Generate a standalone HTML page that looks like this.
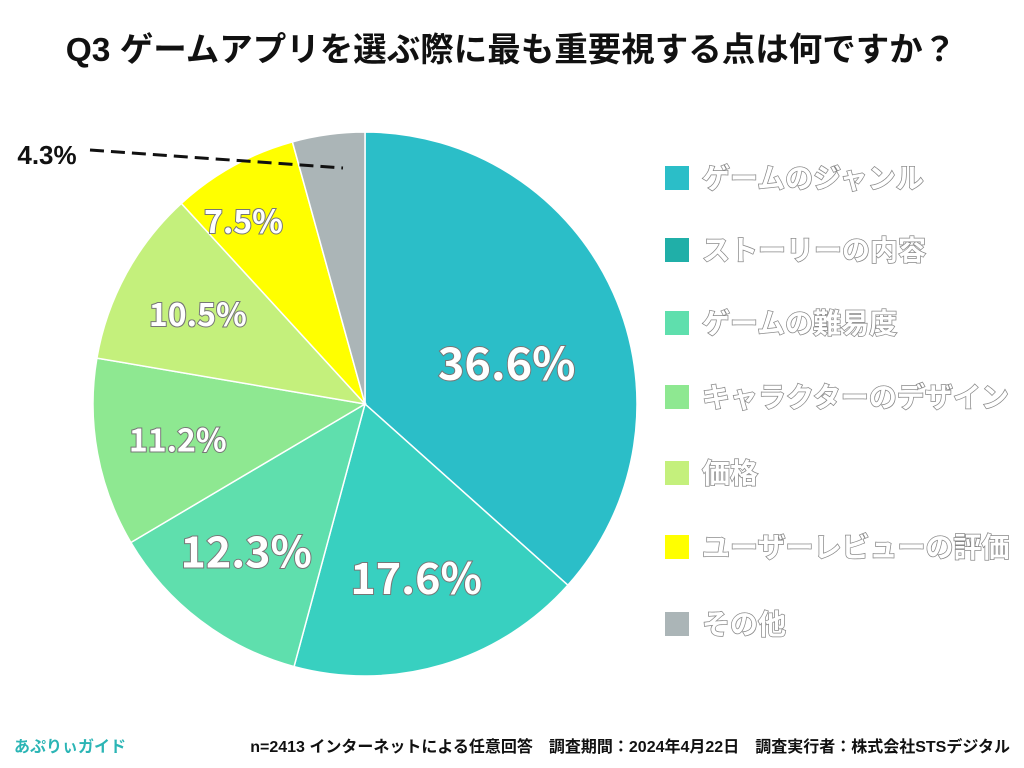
<!DOCTYPE html>
<html><head><meta charset="utf-8"><style>
body{margin:0;background:#fff;}
svg{display:block;font-family:"Liberation Sans","Noto Sans CJK JP",sans-serif;}
.out{fill:#fff;stroke:#888;stroke-width:1.5;paint-order:stroke;font-weight:bold;}
.pl{fill:#fff;stroke:#777;stroke-width:2;paint-order:stroke;font-weight:bold;text-anchor:middle;dominant-baseline:central;font-family:"Noto Sans CJK JP","Liberation Sans",sans-serif;}
</style></head><body>
<svg id="c" width="1024" height="768">
<text x="511" y="61" text-anchor="middle" font-size="33.5" font-weight="bold" fill="#111">Q3 ゲームアプリを選ぶ際に最も重要視する点は何ですか？</text>
<g id="slices"></g><g id="labels"></g><g id="legend"></g>
<text x="47" y="164" text-anchor="middle" font-size="26" font-weight="bold" fill="#111">4.3%</text>
<line x1="90" y1="150" x2="343" y2="168" stroke="#111" stroke-width="3" stroke-dasharray="14,7"/>
<text x="14" y="752" font-size="16" font-weight="bold" fill="#2bb5b5">あぷりぃガイド</text>
<text x="1010" y="752" text-anchor="end" font-size="16" font-weight="bold" fill="#111">n=2413 インターネットによる任意回答　調査期間：2024年4月22日　調査実行者：株式会社STSデジタル</text>
</svg>
<script>
const categories=["ゲームのジャンル","ストーリーの内容","ゲームの難易度","キャラクターのデザイン","価格","ユーザーレビューの評価","その他"];
const values=[36.6,17.6,12.3,11.2,10.5,7.5,4.3];
const colors=["#2bbec8","#38d0c0","#5fdfad","#8ee891","#c4f07c","#ffff00","#abb5b7"];
const legendColors=["#2bbec8","#20afa8","#5fdfad","#8ee891","#c4f07c","#ffff00","#abb5b7"];
const NS="http://www.w3.org/2000/svg";
const cx=365,cy=404,r=272;
const total=values.reduce((a,b)=>a+b,0);
const lr=[0.545,0.66,0.69,0.70,0.70,0.81,0];
const lOff=[7,0,2,0,0,-4.5,0];
const fs=[45,43,43,32,32,32,0];
let a0=0;
values.forEach((v,i)=>{
  const a1=a0+v/total*2*Math.PI;
  const p=a=>[cx+r*Math.sin(a),cy-r*Math.cos(a)];
  const [x0,y0]=p(a0),[x1,y1]=p(a1);
  const path=document.createElementNS(NS,"path");
  path.setAttribute("d",`M${cx},${cy}L${x0},${y0}A${r},${r} 0 ${a1-a0>Math.PI?1:0} 1 ${x1},${y1}Z`);
  path.setAttribute("fill",colors[i]);
  path.setAttribute("stroke","#fff");path.setAttribute("stroke-width","1.5");
  
  
  document.getElementById("slices").appendChild(path);
  if(fs[i]){
    const am=(a0+a1)/2+lOff[i]*Math.PI/180,rr=r*lr[i];
    const t=document.createElementNS(NS,"text");
    t.setAttribute("x",cx+rr*Math.sin(am));t.setAttribute("y",cy-rr*Math.cos(am));
    t.setAttribute("class","pl");t.setAttribute("font-size",fs[i]);
    t.textContent=v.toFixed(1)+"%";
    
    
    document.getElementById("labels").appendChild(t);
  }
  a0=a1;
});
const ly=[178,250,323,397,473,547,624];
categories.forEach((c,i)=>{
  const g=document.createElementNS(NS,"g");
  
  
  const s=document.createElementNS(NS,"rect");
  s.setAttribute("x",665);s.setAttribute("y",ly[i]-12);s.setAttribute("width",24);s.setAttribute("height",24);
  s.setAttribute("fill",legendColors[i]);
  const t=document.createElementNS(NS,"text");
  t.setAttribute("x",702);t.setAttribute("y",ly[i]+10);t.setAttribute("font-size",28);
  t.setAttribute("class","out");t.textContent=c;
  g.appendChild(s);g.appendChild(t);
  document.getElementById("legend").appendChild(g);
});
</script>
</body></html>
